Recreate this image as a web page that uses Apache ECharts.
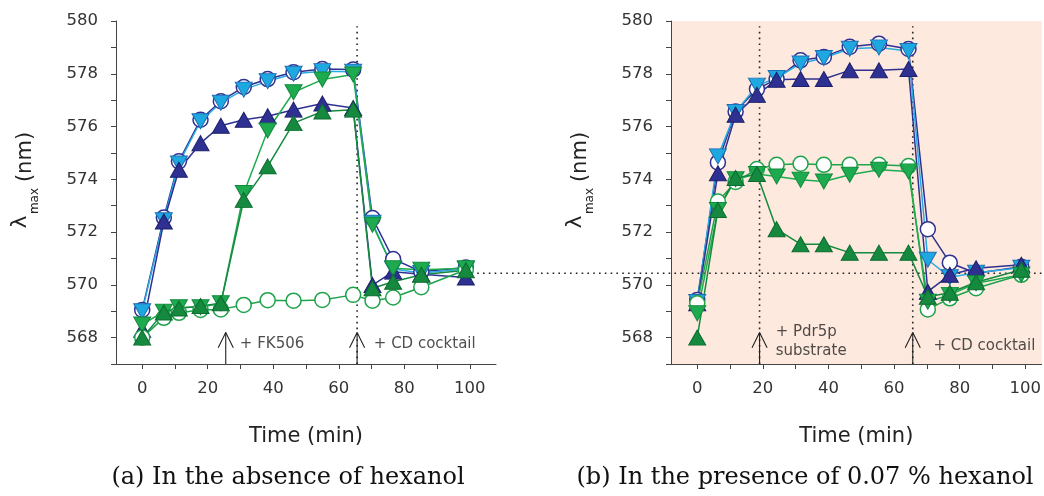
<!DOCTYPE html>
<html>
<head>
<meta charset="utf-8">
<script src="https://cdn.jsdelivr.net/npm/echarts@6/dist/echarts.min.js"></script>
<style>
html,body{margin:0;padding:0;background:#fff;}
#c{width:1044px;height:496px;}
</style>
</head>
<body>
<div id="c"></div>
<script>
// ---- data ----
const timeA = [0, 6.6, 11.2, 17.8, 24, 31, 38.3, 46.2, 55, 64.4, 70.3, 76.6, 85.2, 98.8];
const a_navyCircle = [569.05, 572.55, 574.68, 576.26, 576.96, 577.5, 577.8, 578.06, 578.18, 578.16, 572.53, 570.98, 570.5, 570.66];
const a_lightBlueDown = [569.0, 572.45, 574.6, 576.2, 576.9, 577.4, 577.72, 578.0, 578.1, 578.08, 572.35, 570.6, 570.45, 570.6];
const a_navyUp = [568.3, 572.4, 574.36, 575.37, 576.03, 576.26, 576.39, 576.64, 576.87, 576.7, 569.99, 570.5, 570.4, 570.28];
const a_greenCircle = [568.0, 568.75, 568.94, 569.05, 569.07, 569.24, 569.42, 569.4, 569.43, 569.62, 569.4, 569.52, 569.91, 570.57];
const a_greenDown = [568.5, 568.98, 569.15, 569.15, 569.3, 573.48, 575.85, 577.3, 577.78, 577.97, 572.28, 570.63, 570.57, 570.63];
const a_darkGreenUp = [568.0, 568.95, 569.1, 569.2, 569.3, 573.22, 574.49, 576.13, 576.57, 576.64, 569.87, 570.12, 570.38, 570.55];

const timeB = [0, 6.3, 11.7, 18.2, 24.2, 31.5, 38.6, 46.5, 55.4, 64.4, 70.3, 77, 85, 98.8];
const b_navyCircle = [569.43, 574.64, 576.57, 577.42, 577.8, 578.51, 578.64, 579.02, 579.14, 578.94, 572.11, 570.84, 570.44, 570.69];
const b_lightBlueDown = [569.35, 574.87, 576.55, 577.55, 577.84, 578.39, 578.6, 578.95, 579.0, 578.86, 570.95, 570.29, 570.46, 570.65];
const b_navyUp = [569.3, 574.23, 576.45, 577.2, 577.77, 577.8, 577.8, 578.13, 578.13, 578.18, 569.74, 570.38, 570.63, 570.76];
const b_greenCircle = [569.3, 573.16, 573.9, 574.39, 574.55, 574.59, 574.55, 574.55, 574.55, 574.5, 569.07, 569.49, 569.87, 570.38];
const b_greenDown = [568.92, 572.84, 574.0, 574.2, 574.11, 573.98, 573.92, 574.17, 574.36, 574.3, 569.36, 569.62, 570.06, 570.38];
const b_darkGreenUp = [568.0, 572.84, 574.05, 574.2, 572.11, 571.54, 571.54, 571.22, 571.22, 571.22, 569.55, 569.7, 570.1, 570.57];

const xTicks = [0, 10, 20, 30, 40, 50, 60, 70, 80, 90, 100];
const xLabels = [0, 20, 40, 60, 80, 100];
const yLabels = [568, 570, 572, 574, 576, 578, 580];

const baseline = 570.44;            // horizontal dotted reference level
const baselineFromA = 100.5;        // starts in panel (a) at this time ...
const baselineToB = 105;            // ... and runs to this time in panel (b)
const eventsA = [
  {t: 25.5, guide: false, text: '+ FK506', tx: 29.8, ty: 567.76},
  {t: 65.6, guide: true, text: '+ CD cocktail', tx: 70.7, ty: 567.76}
];
const eventsB = [
  {t: 19.0, guide: true, text: '+ Pdr5p\nsubstrate', tx: 23.9, ty: 567.86},
  {t: 65.7, guide: true, text: '+ CD cocktail', tx: 72.0, ty: 567.68}
];
const captions = ['(a) In the absence of hexanol', '(b) In the presence of 0.07 % hexanol'];

// ---- styles ----
const SANS = 'DejaVu Sans';
const NAVY = '#2e3192';
const styles = {
  navyCircle:   {symbol: 'circle', size: 15, rot: 0, fill: '#ffffff', border: NAVY, bw: 1.5, line: NAVY},
  lightBlueDown:{symbol: 'triangle', size: [17, 15], rot: 180, fill: '#1ea8e2', border: '#1f6fb3', bw: 1, line: '#29abe2'},
  navyUp:       {symbol: 'triangle', size: [17, 15], rot: 0, fill: NAVY, border: '#1d1f6b', bw: 1, line: NAVY},
  greenCircle:  {symbol: 'circle', size: 15, rot: 0, fill: '#ffffff', border: '#1ea34b', bw: 1.5, line: '#1ea34b'},
  greenDown:    {symbol: 'triangle', size: [17, 15], rot: 180, fill: '#1eab4f', border: '#128a3d', bw: 1, line: '#1eab4f'},
  darkGreenUp:  {symbol: 'triangle', size: [17, 15], rot: 0, fill: '#15893e', border: '#0d6b2f', bw: 1, line: '#15893e'}
};

function pairs(t, v) { return t.map((x, i) => [x, v[i]]); }
function dataSeries(key, idx, t, v) {
  const s = styles[key];
  return {
    type: 'line', name: key, xAxisIndex: idx, yAxisIndex: idx,
    data: pairs(t, v), symbol: s.symbol, symbolSize: s.size, symbolRotate: s.rot,
    showAllSymbol: true, z: 5,
    itemStyle: {color: s.fill, borderColor: s.border, borderWidth: s.bw},
    lineStyle: {color: s.line, width: 1.5}
  };
}
function seg(idx, pts, style) {
  return {type: 'line', xAxisIndex: idx, yAxisIndex: idx, data: pts, symbol: 'none', silent: true,
    z: 3, lineStyle: style, animation: false};
}
const dotted = {color: '#222', width: 1.6, type: [1.6, 4.2]};
const arrowStyle = {color: '#222', width: 1.1};

function eventSeries(idx, events) {
  const out = [];
  events.forEach(e => {
    if (e.guide) out.push(seg(idx, [[e.t, 567], [e.t, 579.8]], dotted));
    out.push(seg(idx, [[e.t, 567], [e.t, 568.19]], arrowStyle));
    out.push(seg(idx, [[e.t - 2.3, 567.62], [e.t, 568.19], [e.t + 2.3, 567.62]], arrowStyle));
  });
  out.push({
    type: 'scatter', xAxisIndex: idx, yAxisIndex: idx, symbolSize: 0, silent: true, z: 6,
    data: events.map(e => ({value: [e.tx, e.ty], label: {formatter: e.text}})),
    label: {show: true, position: 'right', distance: 0, fontFamily: SANS, fontSize: 15,
      color: '#222', align: 'left', lineHeight: 19}
  });
  return out;
}

const series = [];
series.push(...eventSeries(0, eventsA));
series.push(...eventSeries(1, eventsB));
series.push(dataSeries('navyCircle', 0, timeA, a_navyCircle));
series.push(dataSeries('lightBlueDown', 0, timeA, a_lightBlueDown));
series.push(dataSeries('navyUp', 0, timeA, a_navyUp));
series.push(dataSeries('greenCircle', 0, timeA, a_greenCircle));
series.push(dataSeries('greenDown', 0, timeA, a_greenDown));
series.push(dataSeries('darkGreenUp', 0, timeA, a_darkGreenUp));
series.push(dataSeries('navyCircle', 1, timeB, b_navyCircle));
series.push(dataSeries('lightBlueDown', 1, timeB, b_lightBlueDown));
series.push(dataSeries('navyUp', 1, timeB, b_navyUp));
series.push(dataSeries('greenCircle', 1, timeB, b_greenCircle));
series.push(dataSeries('greenDown', 1, timeB, b_greenDown));
series.push(dataSeries('darkGreenUp', 1, timeB, b_darkGreenUp));

function xAxis(idx, max) {
  return {
    type: 'value', gridIndex: idx, min: -8, max: max,
    name: 'Time (min)', nameLocation: 'middle', nameGap: 62,
    nameTextStyle: {fontFamily: SANS, fontSize: 21, color: '#222'},
    axisLine: {show: true, onZero: false, lineStyle: {color: '#444', width: 1}},
    axisTick: {show: true, length: 5, customValues: xTicks, lineStyle: {color: '#444'}},
    axisLabel: {customValues: xLabels, margin: 16, fontFamily: SANS, fontSize: 16.5, color: '#333'},
    splitLine: {show: false}
  };
}
function yAxis(idx) {
  return {
    type: 'value', gridIndex: idx, min: 567, max: 580, interval: 1,
    axisLine: {show: true, onZero: false, lineStyle: {color: '#444', width: 1}},
    axisTick: {show: true, length: 5, lineStyle: {color: '#444'}},
    axisLabel: {customValues: yLabels, margin: 18, fontFamily: SANS, fontSize: 16.5, color: '#333'},
    splitLine: {show: false}
  };
}

function yName(cx) {
  return [
    {type: 'text', x: cx, y: 222, rotation: Math.PI / 2, silent: true,
      style: {text: 'λ', fontFamily: SANS, fontSize: 22, fill: '#222', align: 'center', verticalAlign: 'middle'}},
    {type: 'text', x: cx + 15, y: 201, rotation: Math.PI / 2, silent: true,
      style: {text: 'max', fontFamily: SANS, fontSize: 12, fill: '#222', align: 'center', verticalAlign: 'middle'}},
    {type: 'text', x: cx + 6, y: 157, rotation: Math.PI / 2, silent: true,
      style: {text: '(nm)', fontFamily: SANS, fontSize: 21, fill: '#222', align: 'center', verticalAlign: 'middle'}}
  ];
}

const chart = echarts.init(document.getElementById('c'), null, {renderer: 'canvas'});
chart.setOption({
  animation: false,
  backgroundColor: '#ffffff',
  grid: [
    {left: 116, top: 21, width: 380, height: 343, show: false},
    {left: 671, top: 21, width: 371, height: 343, show: true, backgroundColor: '#fde9dd', borderWidth: 0}
  ],
  xAxis: [xAxis(0, 108), xAxis(1, 105)],
  yAxis: [yAxis(0), yAxis(1)],
  series: series,
  graphic: [
    ...yName(20), ...yName(575),
    {type: 'text', x: 288, y: 478, silent: true,
      style: {text: captions[0], fontFamily: 'DejaVu Serif', fontSize: 24, fill: '#111', align: 'center', verticalAlign: 'middle'}},
    {type: 'text', x: 805, y: 478, silent: true,
      style: {text: captions[1], fontFamily: 'DejaVu Serif', fontSize: 24, fill: '#111', align: 'center', verticalAlign: 'middle'}}
  ]
});

// horizontal dotted reference line crossing from panel (a) into panel (b),
// positioned through the axes' own scales
const pA = chart.convertToPixel({gridIndex: 0}, [baselineFromA, baseline]);
const pB = chart.convertToPixel({gridIndex: 1}, [baselineToB, baseline]);
chart.setOption({
  graphic: [{
    type: 'line', id: 'baseline', silent: true, z: 3,
    shape: {x1: pA[0], y1: pA[1], x2: pB[0], y2: pB[1]},
    style: {stroke: '#222', lineWidth: 1.6, lineDash: [1.6, 4.2]}
  }]
});
</script>
